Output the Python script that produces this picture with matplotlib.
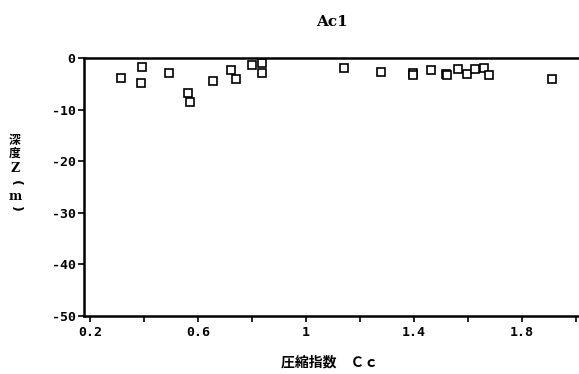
import matplotlib
matplotlib.use("Agg")
import matplotlib.pyplot as plt

plt.rcParams['font.family'] = ['DejaVu Sans Mono', 'Noto Sans CJK JP']

# Compression index Cc vs depth Z for layer Ac1
cc = [0.314, 0.394, 0.388, 0.491, 0.563, 0.570, 0.657, 0.722, 0.742, 0.800,
      0.837, 0.837, 1.142, 1.277, 1.395, 1.398, 1.464, 1.520, 1.523, 1.563,
      1.595, 1.625, 1.659, 1.679, 1.911]
depth = [-3.8, -1.7, -4.9, -3.0, -6.8, -8.5, -4.4, -2.3, -4.0, -1.3,
         -0.9, -3.0, -1.9, -2.7, -3.0, -3.2, -2.3, -3.1, -3.2, -2.2,
         -3.1, -2.2, -1.9, -3.2, -4.1]

x_ticks = [0.2, 0.4, 0.6, 0.8, 1.0, 1.2, 1.4, 1.6, 1.8, 2.0]
x_labels = ['0.2', '', '0.6', '', '1', '', '1.4', '', '1.8', '']
y_ticks = [0, -10, -20, -30, -40, -50]
y_labels = ['0', '-10', '-20', '-30', '-40', '-50']

W, H = 579, 374
fig = plt.figure(figsize=(W / 100, H / 100), dpi=100)
ax = fig.add_axes([84 / W, 1 - 316 / H, 1 - 84 / W, (316 - 58) / H])

ax.plot(cc, depth, linestyle='none', marker='s', markersize=6.3,
        markerfacecolor='white', markeredgecolor='black', markeredgewidth=1.2,
        clip_on=False)

ax.set_xlim(0.178, 2.011)
ax.set_ylim(-50, 0)

ax.set_xticks(x_ticks)
ax.set_xticklabels(x_labels, fontsize=9.5, fontweight='bold')
ax.set_yticks(y_ticks)
ax.set_yticklabels(y_labels, fontsize=9.5, fontweight='bold')
ax.tick_params(axis='both', direction='out', length=4, width=1.2, pad=2)
ax.tick_params(axis='x', pad=3)

for side in ('left', 'bottom', 'top'):
    ax.spines[side].set_linewidth(1.8)
ax.spines['right'].set_visible(False)

# Title
fig.text(332 / W, 1 - 22 / H, 'Ac1', ha='center', va='center',
         fontsize=11, fontweight='bold', family=['DejaVu Serif'])

# X-axis label
fig.text(330 / W, 1 - 362 / H, '圧縮指数　Ｃｃ', ha='center', va='center',
         fontsize=10, fontweight='bold', family=['Noto Sans CJK JP', 'DejaVu Sans'])

# Vertical y-axis label, one character per line; brackets turned sideways
ylab = [('深', 141, 0), ('度', 153, 0), ('Z', 168, 0), ('(', 183, -90),
        ('m', 196, 0), (')', 209, -90)]
for ch, yp, rot in ylab:
    if ch in '深度':
        fam, fs = ['Noto Sans CJK JP'], 8.5
    elif ch in '()':
        fam, fs = ['DejaVu Sans'], 9
    else:
        fam, fs = ['DejaVu Serif'], 9
    fig.text(15 / W, 1 - yp / H, ch, ha='center', va='center', rotation=rot,
             fontsize=fs, fontweight='bold', family=fam)

fig.savefig('out.png', dpi=100)
